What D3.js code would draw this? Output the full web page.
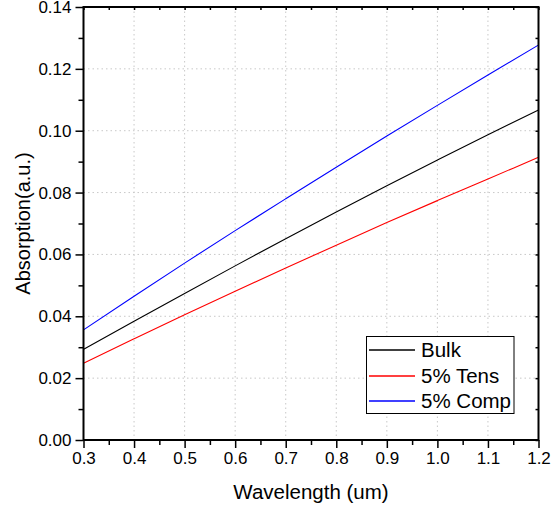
<!DOCTYPE html>
<html><head><meta charset="utf-8">
<script src="https://cdn.jsdelivr.net/npm/d3@7"></script>
<style>body{margin:0;background:#fff;} text{font-family:"Liberation Sans",Arial,sans-serif;}</style>
</head><body><svg id="c" width="551" height="512"></svg>
<script>
const wavelength = [0.3,0.4,0.5,0.6,0.7,0.8,0.9,1.0,1.1,1.2];
const bulk = [0.0293,0.0384,0.0474,0.0563,0.0651,0.0737,0.0822,0.0905,0.0987,0.1067];
const tens = [0.0248,0.0327,0.0405,0.0481,0.0556,0.0630,0.0703,0.0774,0.0844,0.0914];
const comp = [0.0356,0.0465,0.0572,0.0677,0.0780,0.0882,0.0983,0.1082,0.1180,0.1277];
const seriesNames = ["Bulk","5% Tens","5% Comp"];
const seriesColors = ["#000000","#ff0000","#0000ff"];
const xTicks = [0.3,0.4,0.5,0.6,0.7,0.8,0.9,1.0,1.1,1.2];
const yTicks = [0,0.02,0.04,0.06,0.08,0.10,0.12,0.14];

const svg = d3.select("#c");
const L=83.5,R=538.5,T=7,B=440;
const x = d3.scaleLinear().domain([0.3,1.2]).range([L,R]);
const y = d3.scaleLinear().domain([0,0.14]).range([B,T]);
const xMinor = d3.range(0,9).map(i=>0.35+i*0.1);
const yMinor = d3.range(0,7).map(i=>0.01+i*0.02);

// grid
const g = svg.append("g");
g.selectAll(".gx").data(xTicks.slice(1,-1)).join("line")
 .attr("x1",d=>x(d)).attr("x2",d=>x(d)).attr("y1",T).attr("y2",B)
 .attr("stroke","#c8c8c8").attr("stroke-width",1).attr("stroke-dasharray","1.5,3");
g.selectAll(".gy").data(yTicks.slice(1,-1)).join("line")
 .attr("y1",d=>y(d)).attr("y2",d=>y(d)).attr("x1",L).attr("x2",R)
 .attr("stroke","#c8c8c8").attr("stroke-width",1).attr("stroke-dasharray","1.5,3");

// lines
const data=[bulk,tens,comp];
const line = d3.line().curve(d3.curveMonotoneX).x((d,i)=>x(wavelength[i])).y(d=>y(d));
data.forEach((s,k)=>{
  svg.append("path").datum(s).attr("d",line).attr("fill","none")
   .attr("stroke",seriesColors[k]).attr("stroke-width",1.1);
});

// axes
const fmtX = d3.format(".1f"), fmtY = d3.format(".2f");
const xa = svg.append("g").attr("transform",`translate(0,${B})`)
 .call(d3.axisBottom(x).tickValues(xTicks).tickFormat(fmtX).tickSize(8).tickPadding(4));
const xm = svg.append("g").attr("transform",`translate(0,${B})`)
 .call(d3.axisBottom(x).tickValues(xMinor).tickFormat("").tickSize(5));
const ya = svg.append("g").attr("transform",`translate(${L},0)`)
 .call(d3.axisLeft(y).tickValues(yTicks).tickFormat(fmtY).tickSize(8).tickPadding(4));
const ym = svg.append("g").attr("transform",`translate(${L},0)`)
 .call(d3.axisLeft(y).tickValues(yMinor).tickFormat("").tickSize(5));
const xt = svg.append("g").attr("transform",`translate(0,${T})`)
 .call(d3.axisBottom(x).tickValues(xTicks.concat(xMinor)).tickFormat("").tickSize(3));
const yr = svg.append("g").attr("transform",`translate(${R},0)`)
 .call(d3.axisLeft(y).tickValues(yTicks.concat(yMinor)).tickFormat("").tickSize(3));
[xa,xm,ya,ym,xt,yr].forEach(a=>{
  a.select(".domain").remove();
  a.selectAll("line").attr("stroke","#000").attr("stroke-width",1.5);
  a.selectAll("text").attr("font-size",17).attr("fill","#000")
   .style("font-family","'Liberation Sans',Arial,sans-serif");
});
svg.append("rect").attr("x",L).attr("y",T).attr("width",R-L).attr("height",B-T)
 .attr("fill","none").attr("stroke","#000").attr("stroke-width",2);

// titles
svg.append("text").attr("x",(L+R)/2).attr("y",499).attr("text-anchor","middle")
 .attr("font-size",20.5).text("Wavelength (um)");
svg.append("text").attr("transform",`translate(30,${(T+B)/2}) rotate(-90)`)
 .attr("text-anchor","middle").attr("font-size",20).text("Absorption(a.u.)");

// legend
const lg = svg.append("g");
lg.append("rect").attr("x",366.5).attr("y",336.5).attr("width",147.5).attr("height",77)
 .attr("fill","#fff").attr("stroke","#000").attr("stroke-width",1);
seriesNames.forEach((n,i)=>{
  const yy = Math.round(350 + i*25.5);
  lg.append("line").attr("x1",369).attr("x2",415).attr("y1",yy).attr("y2",yy)
   .attr("stroke",seriesColors[i]).attr("stroke-width",1.5);
  lg.append("text").attr("x",421).attr("y",yy+7).attr("font-size",20.5).attr("fill","#000").text(n);
});
</script></body></html>
